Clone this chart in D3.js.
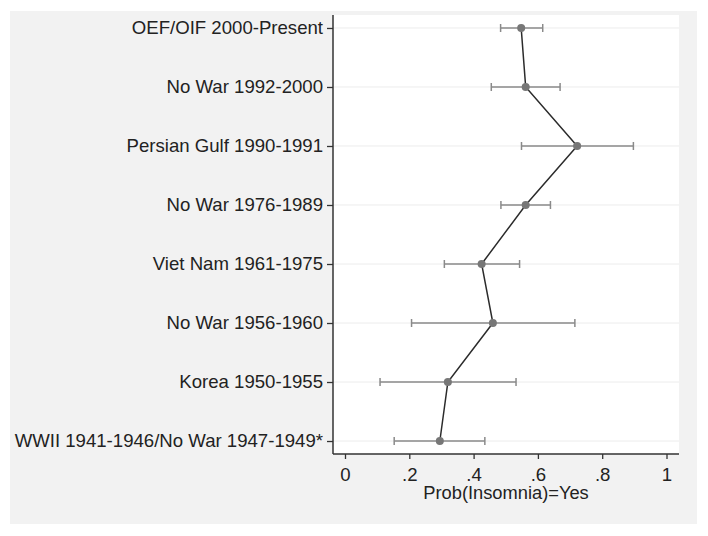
<!DOCTYPE html>
<html lang="en">
<head>
    <meta charset="UTF-8">
    <title>Prob(Insomnia) by service era</title>
    <script src="https://d3js.org/d3.v7.min.js"></script>
    <style>
        body { margin: 0; background: #fff; }
        text { font-family: "Liberation Sans", Arial, sans-serif; fill: #222; }
        .tick-label { font-size: 18.6px; }
        .axis-label { font-size: 18.3px; }
    </style>
</head>
<body>
    <svg width="708" height="536"></svg>

    <script>
        // Data
        const categories = [
            "OEF/OIF 2000-Present",
            "No War 1992-2000",
            "Persian Gulf 1990-1991",
            "No War 1976-1989",
            "Viet Nam 1961-1975",
            "No War 1956-1960",
            "Korea 1950-1955",
            "WWII 1941-1946/No War 1947-1949*"
        ];
        const estimates = [0.548, 0.562, 0.722, 0.562, 0.425, 0.460, 0.320, 0.295];
        const lowerCI  = [0.484, 0.455, 0.549, 0.485, 0.309, 0.207, 0.109, 0.153];
        const upperCI  = [0.615, 0.669, 0.897, 0.639, 0.543, 0.715, 0.532, 0.435];
        const xTicks = [0, 0.2, 0.4, 0.6, 0.8, 1];
        const xTickLabels = ["0", ".2", ".4", ".6", ".8", "1"];

        const data = categories.map((c, i) => ({
            cat: c, est: estimates[i], lo: lowerCI[i], hi: upperCI[i]
        }));

        const svg = d3.select("svg");

        // outer grey panel
        svg.append("rect")
            .attr("x", 10).attr("y", 11)
            .attr("width", 687).attr("height", 513)
            .attr("fill", "#f2f2f2");

        const plot = { left: 333, right: 679, top: 15, bottom: 454 };

        svg.append("rect")
            .attr("x", plot.left).attr("y", plot.top)
            .attr("width", plot.right - plot.left)
            .attr("height", plot.bottom - plot.top)
            .attr("fill", "#fff");

        const xScale = d3.scaleLinear()
            .domain([0, 1])
            .range([345, 666.5]);

        const yScale = d3.scalePoint()
            .domain(categories)
            .range([plot.top, plot.bottom])
            .padding(0.22);

        // grid lines
        svg.append("g")
            .selectAll("line")
            .data(categories)
            .enter().append("line")
            .attr("x1", plot.left).attr("x2", plot.right)
            .attr("y1", d => yScale(d)).attr("y2", d => yScale(d))
            .attr("stroke", "#ececec")
            .attr("stroke-width", 1);

        // Y axis
        const yAxis = svg.append("g")
            .attr("transform", `translate(${plot.left},0)`)
            .call(d3.axisLeft(yScale).tickSize(6).tickPadding(4).tickSizeOuter(0));
        yAxis.select(".domain").remove();
        yAxis.selectAll(".tick line").attr("stroke", "#333").attr("stroke-width", 1.3);
        yAxis.selectAll(".tick text")
            .attr("class", "tick-label")
            .attr("font-family", null).attr("font-size", null)
            .attr("fill", "#222");
        svg.append("line")
            .attr("x1", plot.left).attr("x2", plot.left)
            .attr("y1", plot.top).attr("y2", plot.bottom)
            .attr("stroke", "#333").attr("stroke-width", 1.5);

        // X axis
        const xAxis = svg.append("g")
            .attr("transform", `translate(0,${plot.bottom})`)
            .call(d3.axisBottom(xScale)
                .tickValues(xTicks)
                .tickFormat((d, i) => xTickLabels[i])
                .tickSize(5).tickPadding(9).tickSizeOuter(0));
        xAxis.select(".domain").remove();
        xAxis.selectAll(".tick line").attr("stroke", "#333").attr("stroke-width", 1.3);
        xAxis.selectAll(".tick text")
            .attr("class", "tick-label")
            .attr("font-family", null).attr("font-size", null)
            .attr("fill", "#222");
        svg.append("line")
            .attr("x1", plot.left).attr("x2", plot.right)
            .attr("y1", plot.bottom).attr("y2", plot.bottom)
            .attr("stroke", "#333").attr("stroke-width", 1.5);

        svg.append("text")
            .attr("class", "axis-label")
            .attr("x", (plot.left + plot.right) / 2)
            .attr("y", 499)
            .attr("text-anchor", "middle")
            .text("Prob(Insomnia)=Yes");

        // error bars
        const bars = svg.append("g")
            .selectAll("g")
            .data(data)
            .enter().append("g")
            .attr("stroke", "#8a8a8a")
            .attr("stroke-width", 1.5);
        bars.append("line")
            .attr("x1", d => xScale(d.lo)).attr("x2", d => xScale(d.hi))
            .attr("y1", d => yScale(d.cat)).attr("y2", d => yScale(d.cat));
        bars.append("line")
            .attr("x1", d => xScale(d.lo)).attr("x2", d => xScale(d.lo))
            .attr("y1", d => yScale(d.cat) - 4).attr("y2", d => yScale(d.cat) + 4);
        bars.append("line")
            .attr("x1", d => xScale(d.hi)).attr("x2", d => xScale(d.hi))
            .attr("y1", d => yScale(d.cat) - 4).attr("y2", d => yScale(d.cat) + 4);

        // connecting line
        const line = d3.line()
            .x(d => xScale(d.est))
            .y(d => yScale(d.cat));
        svg.append("path")
            .datum(data)
            .attr("d", line)
            .attr("fill", "none")
            .attr("stroke", "#2b2b2b")
            .attr("stroke-width", 1.5);

        // points
        svg.selectAll(".dot")
            .data(data)
            .enter().append("circle")
            .attr("class", "dot")
            .attr("cx", d => xScale(d.est))
            .attr("cy", d => yScale(d.cat))
            .attr("r", 4)
            .attr("fill", "#777");
    </script>
</body>
</html>
